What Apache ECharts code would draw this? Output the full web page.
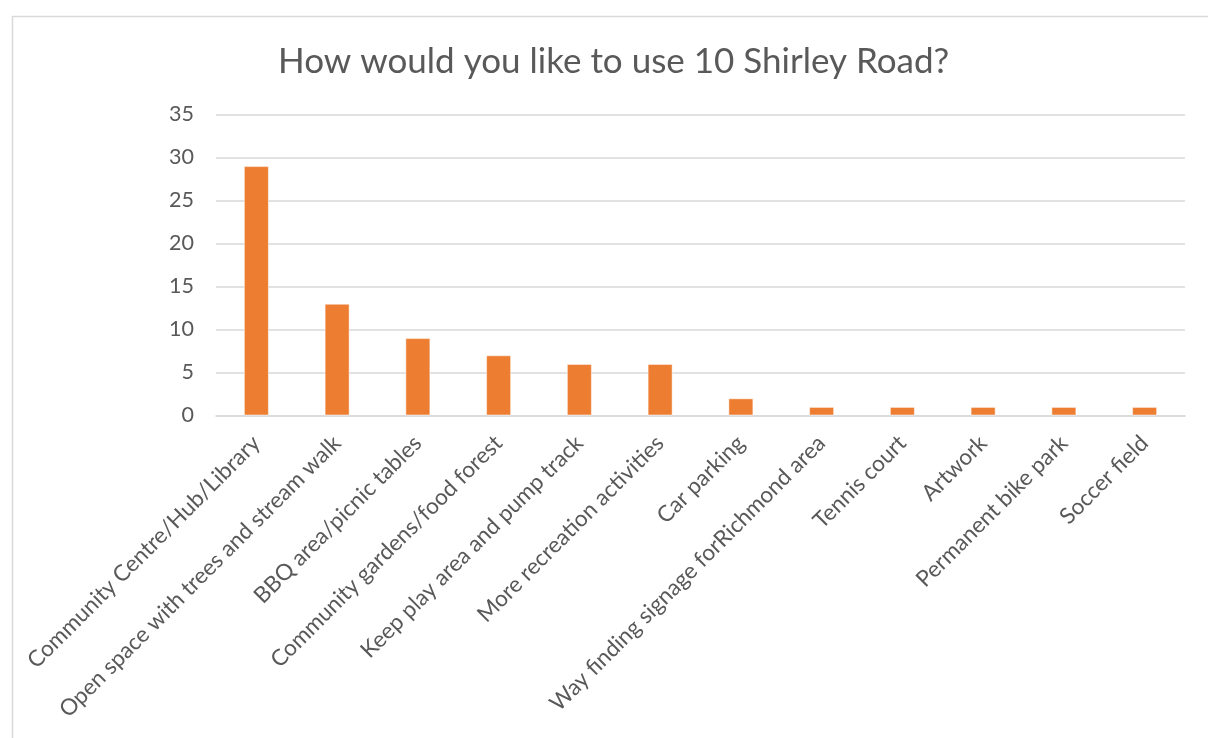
<!DOCTYPE html>
<html>
<head>
<meta charset="utf-8">
<script src="https://cdn.jsdelivr.net/npm/echarts@6/dist/echarts.min.js"></script>
<style>
html,body{margin:0;padding:0;background:#fff;}
#chart{width:1208px;height:738px;}
</style>
</head>
<body>
<div id="chart"></div>
<script>
const titleText = 'How would you like to use 10 Shirley Road?';
const categories = [
  'Community Centre/Hub/Library',
  'Open space with trees and stream walk',
  'BBQ area/picnic tables',
  'Community gardens/food forest',
  'Keep play area and pump track',
  'More recreation activities',
  'Car parking',
  'Way finding signage forRichmond area',
  'Tennis court',
  'Artwork',
  'Permanent bike park',
  'Soccer field'
];
const counts = [29, 13, 9, 7, 6, 6, 2, 1, 1, 1, 1, 1];
const yTicks = [0, 5, 10, 15, 20, 25, 30, 35];

const chart = echarts.init(document.getElementById('chart'), null, {renderer: 'canvas'});
chart.setOption({
  animation: false,
  backgroundColor: '#fff',
  graphic: [{
    type: 'rect',
    left: 10, top: 14,
    shape: {width: 1400, height: 1000},
    style: {fill: 'none', stroke: '#d9d9d9', lineWidth: 1.5},
    silent: true
  }],
  title: {
    text: titleText,
    left: 273,
    top: 39,
    textStyle: {fontFamily: 'Lato', fontWeight: 'normal', fontSize: 35, color: '#595959'}
  },
  grid: {left: 216, right: 23, top: 114.5, bottom: 322.5, containLabel: false},
  xAxis: {
    type: 'category',
    data: categories,
    axisLine: {show: true, lineStyle: {color: '#d9d9d9', width: 1.5}},
    axisTick: {show: false},
    axisLabel: {
      rotate: 45, interval: 0, margin: 24,
      fontFamily: 'Lato', fontSize: 22.5, color: '#595959'
    }
  },
  yAxis: {
    type: 'value',
    min: 0, max: 35, interval: 5,
    axisLine: {show: false},
    axisTick: {show: false},
    splitLine: {lineStyle: {color: '#d9d9d9', width: 1.5}},
    axisLabel: {
      margin: 22, fontFamily: 'Lato', fontSize: 21.5, color: '#595959',
      formatter: v => yTicks.includes(v) ? String(v) : ''
    }
  },
  series: [{
    type: 'bar',
    data: counts,
    barWidth: '31%',
    itemStyle: {color: '#ED7D31', borderColor: 'rgba(255,255,255,0.5)', borderWidth: 1}
  }]
});
</script>
</body>
</html>
